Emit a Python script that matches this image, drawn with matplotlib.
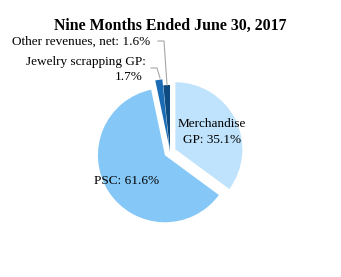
import matplotlib
matplotlib.use("Agg")
import matplotlib.pyplot as plt

plt.rcParams['font.family'] = ['Liberation Serif', 'DejaVu Serif']

title = "Nine Months Ended June 30, 2017"
categories = ["Merchandise GP", "PSC", "Jewelry scrapping GP", "Other revenues, net"]
shares = [35.1, 61.6, 1.7, 1.6]
colors = ["#bfe3fc", "#85c8f8", "#1b6cb4", "#0c4a80"]

W, H = 341, 277
fig = plt.figure(figsize=(W / 100, H / 100), dpi=100)
ax = fig.add_axes([0, 0, 1, 1])

# pie center / radius in pixel space (y measured from top)
cx, cy, r = 170, 152, 67
explode = [0.09 * r, 0.09 * r, 0.09 * r, 0.0]  # pie's explode is absolute
ax.pie(shares, colors=colors, explode=explode, startangle=90, counterclock=False,
       center=(cx, H - cy), radius=r, frame=True,
       wedgeprops=dict(linewidth=0))
ax.set_xlim(0, W)
ax.set_ylim(0, H)
ax.set_aspect('equal')
ax.axis('off')

def y(v):
    return H - v

ax.text(170, y(26), title, ha='center', va='center', fontsize=11.4, fontweight='bold')

ax.text(212, y(124), "Merchandise", ha='center', va='center', fontsize=9.5)
ax.text(212, y(140), "GP: %.1f%%" % shares[0], ha='center', va='center', fontsize=9.5)
ax.text(127, y(181), "PSC: %.1f%%" % shares[1], ha='center', va='center', fontsize=9.5)
ax.text(146, y(62), "Jewelry scrapping GP:", ha='right', va='center', fontsize=9.5)
ax.text(143, y(77), "%.1f%%" % shares[2], ha='right', va='center', fontsize=9.5)
ax.text(150, y(42), "Other revenues, net: %.1f%%" % shares[3], ha='right', va='center', fontsize=9.5)

# leader lines
lc = "#a6a6a6"
ax.plot([158, 164, 167], [y(41), y(41), y(85)], color=lc, lw=0.8)
ax.plot([151, 157, 160], [y(68), y(68), y(78)], color=lc, lw=0.8)

fig.savefig("out.png", dpi=100)
